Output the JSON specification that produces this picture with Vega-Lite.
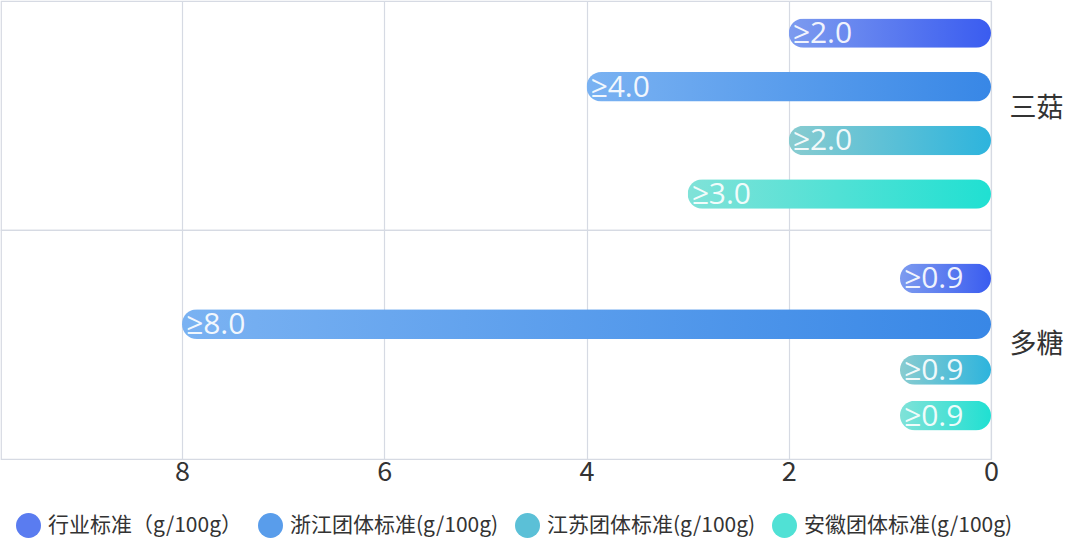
{
  "$schema": "https://vega.github.io/schema/vega-lite/v6.json",
  "padding": {"left": 0, "top": 0, "right": 0, "bottom": 0},
  "background": "white",
  "bounds": "flush",
  "datasets": {
    "standards": [
      {"category": "三菇", "series": "行业标准（g/100g）", "value": 2.0},
      {"category": "三菇", "series": "浙江团体标准(g/100g)", "value": 4.0},
      {"category": "三菇", "series": "江苏团体标准(g/100g)", "value": 2.0},
      {"category": "三菇", "series": "安徽团体标准(g/100g)", "value": 3.0},
      {"category": "多糖", "series": "行业标准（g/100g）", "value": 0.9},
      {"category": "多糖", "series": "浙江团体标准(g/100g)", "value": 8.0},
      {"category": "多糖", "series": "江苏团体标准(g/100g)", "value": 0.9},
      {"category": "多糖", "series": "安徽团体标准(g/100g)", "value": 0.9}
    ]
  },
  "spacing": 0,
  "vconcat": [
    {
      "width": 990,
      "height": 229,
      "data": {"name": "standards"},
      "transform": [
        {"filter": "datum.category === '三菇'"},
        {"calculate": "'≥' + format(datum.value, '.1f')", "as": "label"}
      ],
      "encoding": {
        "x": {
          "field": "value",
          "type": "quantitative",
          "scale": {"domain": [0, 9.79], "reverse": true, "nice": false, "zero": true},
          "axis": {"values": [0, 2, 4, 6, 8], "labels": false, "ticks": false, "domain": false, "title": null, "grid": true, "minExtent": 0, "maxExtent": 0}
        },
        "y": {
          "field": "category",
          "type": "nominal",
          "scale": {"paddingInner": 0, "paddingOuter": 0},
          "axis": {"orient": "right", "title": null, "grid": false, "domain": false, "ticks": false, "labelOffset": -7}
        },
        "yOffset": {
          "field": "series",
          "type": "nominal",
          "sort": ["行业标准（g/100g）", "浙江团体标准(g/100g)", "江苏团体标准(g/100g)", "安徽团体标准(g/100g)"],
          "scale": {"paddingInner": 0.45, "paddingOuter": 0.36, "align": 0.45}
        }
      },
      "layer": [
        {
          "mark": {
            "type": "bar",
            "cornerRadius": 15,
            "fill": {"expr": "datum.series === '行业标准（g/100g）' ? {gradient: 'linear', x1: 0, y1: 0, x2: 1, y2: 0, stops: [{offset: 0, color: '#7d9bef'}, {offset: 1, color: '#3a5cf0'}]} : datum.series === '浙江团体标准(g/100g)' ? {gradient: 'linear', x1: 0, y1: 0, x2: 1, y2: 0, stops: [{offset: 0, color: '#7ab2f2'}, {offset: 1, color: '#3887e6'}]} : datum.series === '江苏团体标准(g/100g)' ? {gradient: 'linear', x1: 0, y1: 0, x2: 1, y2: 0, stops: [{offset: 0, color: '#89ccd0'}, {offset: 1, color: '#2db4dd'}]} : {gradient: 'linear', x1: 0, y1: 0, x2: 1, y2: 0, stops: [{offset: 0, color: '#80e2d8'}, {offset: 1, color: '#20e0d2'}]}"}
          }
        },
        {
          "mark": {"type": "point", "filled": true, "opacity": 0},
          "encoding": {
            "color": {
              "field": "series",
              "type": "nominal",
              "title": null,
              "scale": {
                "domain": ["行业标准（g/100g）", "浙江团体标准(g/100g)", "江苏团体标准(g/100g)", "安徽团体标准(g/100g)"],
                "range": ["#5a7cf0", "#599deb", "#5bc0d7", "#50e1d5"]
              },
              "legend": {
                "symbolOpacity": 1,
                "encode": {
                  "symbols": {
                    "update": {
                      "opacity": {"value": 1},
                      "fill": {"signal": "datum.value === '行业标准（g/100g）' ? {gradient: 'linear', x1: 0, y1: 0, x2: 1, y2: 0, stops: [{offset: 0, color: '#7d9bef'}, {offset: 1, color: '#3a5cf0'}]} : datum.value === '浙江团体标准(g/100g)' ? {gradient: 'linear', x1: 0, y1: 0, x2: 1, y2: 0, stops: [{offset: 0, color: '#7ab2f2'}, {offset: 1, color: '#3887e6'}]} : datum.value === '江苏团体标准(g/100g)' ? {gradient: 'linear', x1: 0, y1: 0, x2: 1, y2: 0, stops: [{offset: 0, color: '#a8e4ec'}, {offset: 1, color: '#2db4dd'}]} : {gradient: 'linear', x1: 0, y1: 0, x2: 1, y2: 0, stops: [{offset: 0, color: '#a0f0e8'}, {offset: 1, color: '#20e0d2'}]}"}
                    }
                  }
                }
              }
            }
          }
        },
        {
          "mark": {"type": "text", "align": "left", "baseline": "middle", "dx": 4, "dy": 1, "fontSize": 30, "font": "Open Sans", "color": "white", "opacity": 0.9},
          "encoding": {"text": {"field": "label"}}
        }
      ]
    },
    {
      "width": 990,
      "height": 229,
      "data": {"name": "standards"},
      "transform": [
        {"filter": "datum.category === '多糖'"},
        {"calculate": "'≥' + format(datum.value, '.1f')", "as": "label"}
      ],
      "encoding": {
        "x": {
          "field": "value",
          "type": "quantitative",
          "scale": {"domain": [0, 9.79], "reverse": true, "nice": false, "zero": true},
          "axis": {"values": [0, 2, 4, 6, 8], "ticks": false, "domain": false, "title": null, "grid": true, "labelFlush": false}
        },
        "y": {
          "field": "category",
          "type": "nominal",
          "scale": {"paddingInner": 0, "paddingOuter": 0},
          "axis": {"orient": "right", "title": null, "grid": false, "domain": false, "ticks": false}
        },
        "yOffset": {
          "field": "series",
          "type": "nominal",
          "sort": ["行业标准（g/100g）", "浙江团体标准(g/100g)", "江苏团体标准(g/100g)", "安徽团体标准(g/100g)"],
          "scale": {"paddingInner": 0.35, "paddingOuter": 0.68, "align": 0.54}
        }
      },
      "layer": [
        {
          "mark": {
            "type": "bar",
            "cornerRadius": 15,
            "fill": {"expr": "datum.series === '行业标准（g/100g）' ? {gradient: 'linear', x1: 0, y1: 0, x2: 1, y2: 0, stops: [{offset: 0, color: '#7d9bef'}, {offset: 1, color: '#3a5cf0'}]} : datum.series === '浙江团体标准(g/100g)' ? {gradient: 'linear', x1: 0, y1: 0, x2: 1, y2: 0, stops: [{offset: 0, color: '#7ab2f2'}, {offset: 1, color: '#3887e6'}]} : datum.series === '江苏团体标准(g/100g)' ? {gradient: 'linear', x1: 0, y1: 0, x2: 1, y2: 0, stops: [{offset: 0, color: '#89ccd0'}, {offset: 1, color: '#2db4dd'}]} : {gradient: 'linear', x1: 0, y1: 0, x2: 1, y2: 0, stops: [{offset: 0, color: '#80e2d8'}, {offset: 1, color: '#20e0d2'}]}"}
          }
        },
        {
          "mark": {"type": "text", "align": "left", "baseline": "middle", "dx": 4, "dy": 1, "fontSize": 30, "font": "Open Sans", "color": "white", "opacity": 0.9},
          "encoding": {"text": {"field": "label"}}
        }
      ]
    }
  ],
  "resolve": {"scale": {"yOffset": "independent", "y": "independent"}},
  "config": {
    "font": "Noto Sans CJK SC",
    "view": {"stroke": "#d6dae3", "strokeWidth": 1.2},
    "axis": {
      "gridColor": "#d6dae3",
      "gridWidth": 1.2,
      "labelColor": "#333333",
      "labelFont": "Noto Sans CJK SC"
    },
    "axisX": {"labelFontSize": 27, "labelPadding": 0},
    "axisY": {"labelFontSize": 27, "labelPadding": 18},
    "legend": {
      "orient": "bottom",
      "direction": "horizontal",
      "symbolType": "circle",
      "symbolSize": 625,
      "symbolStrokeWidth": 0,
      "labelFontSize": 21,
      "labelColor": "#333333",
      "labelLimit": 300,
      "labelOffset": 7,
      "columnPadding": 16,
      "offset": 12,
      "padding": 15
    }
  }
}
